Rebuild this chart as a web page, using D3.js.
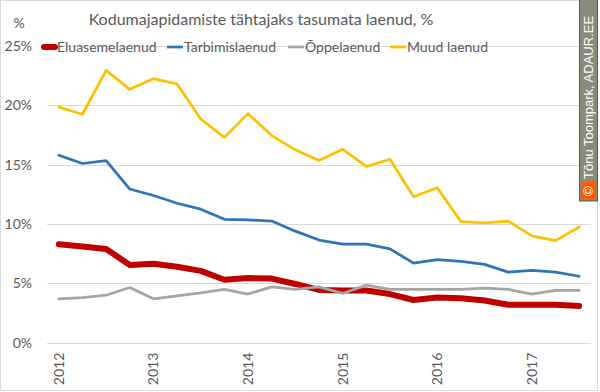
<!DOCTYPE html>
<html>
<head>
<meta charset="utf-8">
<script src="https://cdn.jsdelivr.net/npm/d3@7"></script>
<style>
  body { margin: 0; background: #fff; }
  svg { display: block; font-family: Lato, 'Open Sans', sans-serif; }
</style>
</head>
<body>
<div id="chart"></div>
<script>
// quarters 2012 Q1 .. 2017 Q3
const quarters = [];
for (let y = 2012; y <= 2017; y++) {
  for (let q = 1; q <= 4; q++) {
    if (y === 2017 && q === 4) break;
    quarters.push(y + ' Q' + q);
  }
}

const seriesNames = ['Eluasemelaenud', 'Tarbimislaenud', 'Õppelaenud', 'Muud laenud'];
const seriesColors = ['#c00000', '#2e75b6', '#a5a5a5', '#ffc000'];

const eluase = [8.3, 8.1, 7.9, 6.55, 6.65, 6.4, 6.05, 5.3, 5.45, 5.4, 4.95, 4.45, 4.4, 4.4, 4.1, 3.6, 3.8, 3.75, 3.55, 3.2, 3.2, 3.2, 3.1];
const tarbimis = [15.8, 15.1, 15.35, 12.95, 12.4, 11.75, 11.25, 10.4, 10.35, 10.25, 9.4, 8.65, 8.3, 8.3, 7.9, 6.7, 7.0, 6.85, 6.6, 5.95, 6.1, 5.95, 5.6];
const oppe = [3.7, 3.8, 4.0, 4.65, 3.7, 3.95, 4.2, 4.5, 4.1, 4.7, 4.5, 4.7, 4.15, 4.85, 4.5, 4.5, 4.5, 4.5, 4.6, 4.5, 4.1, 4.4, 4.4];
const muud = [19.85, 19.25, 22.95, 21.35, 22.25, 21.8, 18.85, 17.3, 19.3, 17.45, 16.25, 15.35, 16.3, 14.85, 15.45, 12.3, 13.05, 10.2, 10.1, 10.25, 9.0, 8.6, 9.75];

const yTicks = [0, 5, 10, 15, 20, 25];

const allSeries = [eluase, tarbimis, oppe, muud];

const W = 600, H = 392;
const svg = d3.select('#chart').append('svg')
  .attr('width', W)
  .attr('height', H);

// chart border
svg.append('rect')
  .attr('x', 0.5).attr('y', 0.5)
  .attr('width', W - 3).attr('height', H - 2)
  .attr('fill', '#fff')
  .attr('stroke', '#d9d9d9');

const x = d3.scaleBand()
  .domain(quarters)
  .range([47, 591])
  .padding(0);

const y = d3.scaleLinear().domain([0, 25]).range([342.7, 46]);

// gridlines
svg.append('g')
  .selectAll('line')
  .data(yTicks)
  .enter()
  .append('line')
  .attr('x1', 47)
  .attr('x2', 591)
  .attr('y1', (d) => Math.round(y(d)) + 0.5)
  .attr('y2', (d) => Math.round(y(d)) + 0.5)
  .attr('stroke', '#d9d9d9')
  .attr('stroke-width', 1);

// y axis labels
const yAxis = svg.append('g')
  .attr('transform', 'translate(47,0)')
  .call(d3.axisLeft(y).tickValues(yTicks).tickSize(0).tickPadding(15).tickFormat((d) => d + '%'));
yAxis.select('.domain').remove();
yAxis.selectAll('text')
  .attr('fill', '#595959')
  .style('font-size', '14px')
  .style('font-family', 'Lato, sans-serif');

// x axis labels (years only)
const xAxis = svg.append('g')
  .attr('transform', 'translate(0,342.7)')
  .call(d3.axisBottom(x)
    .tickValues(quarters.filter((q) => q.endsWith('Q1')))
    .tickSize(0)
    .tickFormat((d) => d.slice(0, 4)));
xAxis.select('.domain').remove();
xAxis.selectAll('text')
  .attr('fill', '#595959')
  .style('font-size', '14px')
  .style('font-family', 'Lato, sans-serif')
  .style('text-anchor', 'end')
  .attr('transform', 'rotate(-90)')
  .attr('x', -10)
  .attr('y', 0)
  .attr('dy', '0.35em');

// lines
const line = d3.line()
  .x((d, i) => x(quarters[i]) + x.bandwidth() / 2)
  .y((d) => y(d));

svg.append('g')
  .selectAll('path')
  .data(allSeries)
  .enter()
  .append('path')
  .attr('d', (d) => line(d))
  .attr('fill', 'none')
  .attr('stroke', (d, i) => seriesColors[i])
  .attr('stroke-width', (d, i) => (i === 0 ? 6 : 2.75))
  .attr('stroke-linejoin', 'round')
  .attr('stroke-linecap', 'round');

// title
svg.append('text')
  .attr('x', 261)
  .attr('y', 25)
  .attr('text-anchor', 'middle')
  .style('font-size', '16px')
  .style('fill', '#595959')
  .text('Kodumajapidamiste tähtajaks tasumata laenud, %');

// small unit label at the top-left
svg.append('text')
  .attr('x', 19)
  .attr('y', 28)
  .attr('text-anchor', 'middle')
  .style('font-size', '14px')
  .style('fill', '#595959')
  .text('%');

// legend
const legendX = [40, 167, 288, 390];
const legend = svg.append('g')
  .selectAll('g')
  .data(seriesNames)
  .enter()
  .append('g')
  .attr('transform', (d, i) => `translate(${legendX[i]}, 47)`);

legend.append('line')
  .attr('x1', (d, i) => (i === 0 ? 4 : 0))
  .attr('x2', (d, i) => (i === 0 ? 15 : 16))
  .attr('stroke', (d, i) => seriesColors[i])
  .attr('stroke-width', (d, i) => (i === 0 ? 6 : 2.75))
  .attr('stroke-linecap', (d, i) => (i === 0 ? 'round' : 'butt'));

legend.append('text')
  .attr('x', 17)
  .attr('dy', '0.35em')
  .style('font-size', '14px')
  .style('fill', '#595959')
  .text((d) => d);

// watermark
const wm = svg.append('g');
wm.append('rect')
  .attr('x', 579.5).attr('y', -1)
  .attr('width', 18).attr('height', 202)
  .attr('fill', '#8a8a7a')
  .attr('stroke', '#5a5a50');
wm.append('rect')
  .attr('x', 581).attr('y', 182)
  .attr('width', 15).attr('height', 17)
  .attr('fill', '#ff5a00');
wm.append('text')
  .attr('transform', 'translate(593,191) rotate(-90)')
  .attr('text-anchor', 'middle')
  .style('font-size', '13px')
  .style('fill', '#fff')
  .text('©');
wm.append('text')
  .attr('transform', 'translate(593,179) rotate(-90)')
  .style('font-size', '13px')
  .style('font-family', 'Liberation Sans, Arial, sans-serif')
  .style('fill', '#fff')
  .text('Tõnu Toompark, ADAUR.EE');
</script>
</body>
</html>
